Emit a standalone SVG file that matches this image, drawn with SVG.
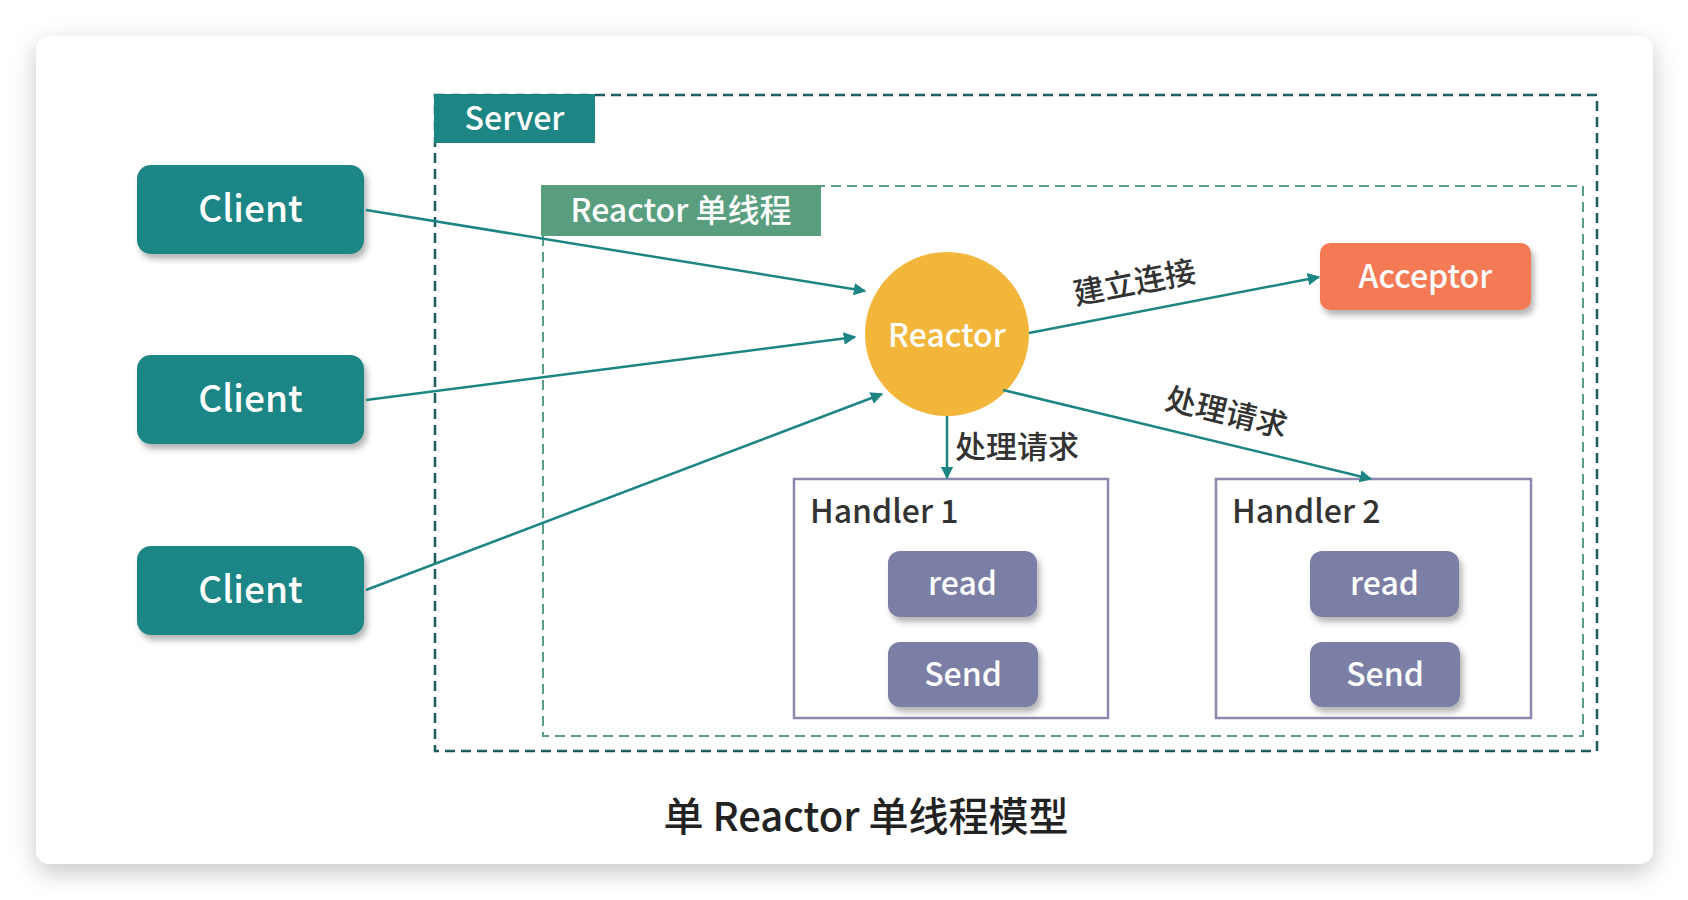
<svg xmlns="http://www.w3.org/2000/svg" width="1688" height="900" viewBox="0 0 1688 900">
<defs>
<filter id="cardShadow" x="-5%" y="-5%" width="110%" height="115%">
<feDropShadow dx="0" dy="8" stdDeviation="12" flood-color="#000" flood-opacity="0.22"/>
</filter>
<filter id="boxShadow" x="-10%" y="-10%" width="125%" height="135%">
<feDropShadow dx="3" dy="5" stdDeviation="3" flood-color="#000" flood-opacity="0.3"/>
</filter>
<marker id="arrow" viewBox="0 0 10 10" refX="9" refY="5" markerWidth="5" markerHeight="5" orient="auto" markerUnits="strokeWidth">
<path d="M0,0 L10,5 L0,10 Z" fill="#1e8585"/>
</marker>
<style>
text { font-family: "Noto Sans CJK SC", "Noto Sans", sans-serif; font-weight: 500; }
.white { fill: #ffffff; text-anchor: middle; dominant-baseline: central; }
.dark { fill: #333333; }
.client { fill: #1e8585; filter: url(#boxShadow); }
.op { fill: #7b7fa5; filter: url(#boxShadow); }
.handler { fill: none; stroke: #8a89ad; stroke-width: 2.5; }
.conn { stroke: #1e8585; stroke-width: 2.5; fill: none; marker-end: url(#arrow); }
</style>
</defs>
<rect x="0" y="0" width="1688" height="900" fill="#ffffff"/>
<rect x="36" y="36" width="1617" height="828" rx="14" fill="#ffffff" filter="url(#cardShadow)"/>

<g id="server">
<rect x="435" y="95" width="1162" height="656" fill="none" stroke="#1d5a5f" stroke-width="2.5" stroke-dasharray="10,6"/>
<rect x="434" y="94" width="161" height="49" fill="#1e8585"/>
<text x="514.5" y="116" class="white" font-size="32">Server</text>
</g>

<g id="reactor-thread">
<rect x="543" y="186" width="1040" height="550" fill="none" stroke="#5a9e86" stroke-width="2" stroke-dasharray="10,6"/>
<rect x="541" y="185" width="280" height="51" fill="#5a9e80"/>
<text x="681" y="208" class="white" font-size="32">Reactor 单线程</text>
</g>

<g id="client1">
<rect x="137" y="165" width="227" height="89" rx="14" class="client"/>
<text x="250.5" y="206" class="white" font-size="37">Client</text>
</g>
<g id="client2">
<rect x="137" y="355" width="227" height="89" rx="14" class="client"/>
<text x="250.5" y="396" class="white" font-size="37">Client</text>
</g>
<g id="client3">
<rect x="137" y="546" width="227" height="89" rx="14" class="client"/>
<text x="250.5" y="587" class="white" font-size="37">Client</text>
</g>

<g id="reactor">
<circle cx="947" cy="334" r="82" fill="#f2b63b"/>
<text x="947" y="333" class="white" font-size="32">Reactor</text>
</g>

<g id="acceptor">
<rect x="1320" y="243" width="211" height="67" rx="10" fill="#f47a54" filter="url(#boxShadow)"/>
<text x="1425.5" y="274" class="white" font-size="32">Acceptor</text>
</g>

<g id="handler1">
<rect x="794" y="479" width="314" height="239" class="handler"/>
<text x="810" y="509" class="dark" font-size="32" dominant-baseline="central">Handler 1</text>
<g id="h1-read">
<rect x="888" y="551" width="149" height="66" rx="12" class="op"/>
<text x="962.5" y="581" class="white" font-size="32">read</text>
</g>
<g id="h1-send">
<rect x="888" y="642" width="150" height="65" rx="12" class="op"/>
<text x="963" y="672" class="white" font-size="32">Send</text>
</g>
</g>

<g id="handler2">
<rect x="1216" y="479" width="315" height="239" class="handler"/>
<text x="1232" y="509" class="dark" font-size="32" dominant-baseline="central">Handler 2</text>
<g id="h2-read">
<rect x="1310" y="551" width="149" height="66" rx="12" class="op"/>
<text x="1384.5" y="581" class="white" font-size="32">read</text>
</g>
<g id="h2-send">
<rect x="1310" y="642" width="150" height="65" rx="12" class="op"/>
<text x="1385" y="672" class="white" font-size="32">Send</text>
</g>
</g>

<g id="connectors">
<line x1="366" y1="210" x2="865" y2="291" class="conn"/>
<line x1="366" y1="400" x2="855" y2="337" class="conn"/>
<line x1="366" y1="590" x2="882" y2="394" class="conn"/>
<line x1="1029" y1="333" x2="1319" y2="277" class="conn"/>
<line x1="947" y1="416" x2="947" y2="478" class="conn"/>
<line x1="1003" y1="390" x2="1371" y2="479" class="conn"/>
<text x="1134" y="280" class="dark" font-size="31" text-anchor="middle" dominant-baseline="central" transform="rotate(-10.9 1134 280)">建立连接</text>
<text x="955" y="444" class="dark" font-size="31" dominant-baseline="central">处理请求</text>
<text x="1227" y="410" class="dark" font-size="31" text-anchor="middle" dominant-baseline="central" transform="rotate(13.6 1227 410)">处理请求</text>
</g>

<text x="866" y="814" font-size="40" fill="#222222" text-anchor="middle" dominant-baseline="central">单 Reactor 单线程模型</text>
</svg>
